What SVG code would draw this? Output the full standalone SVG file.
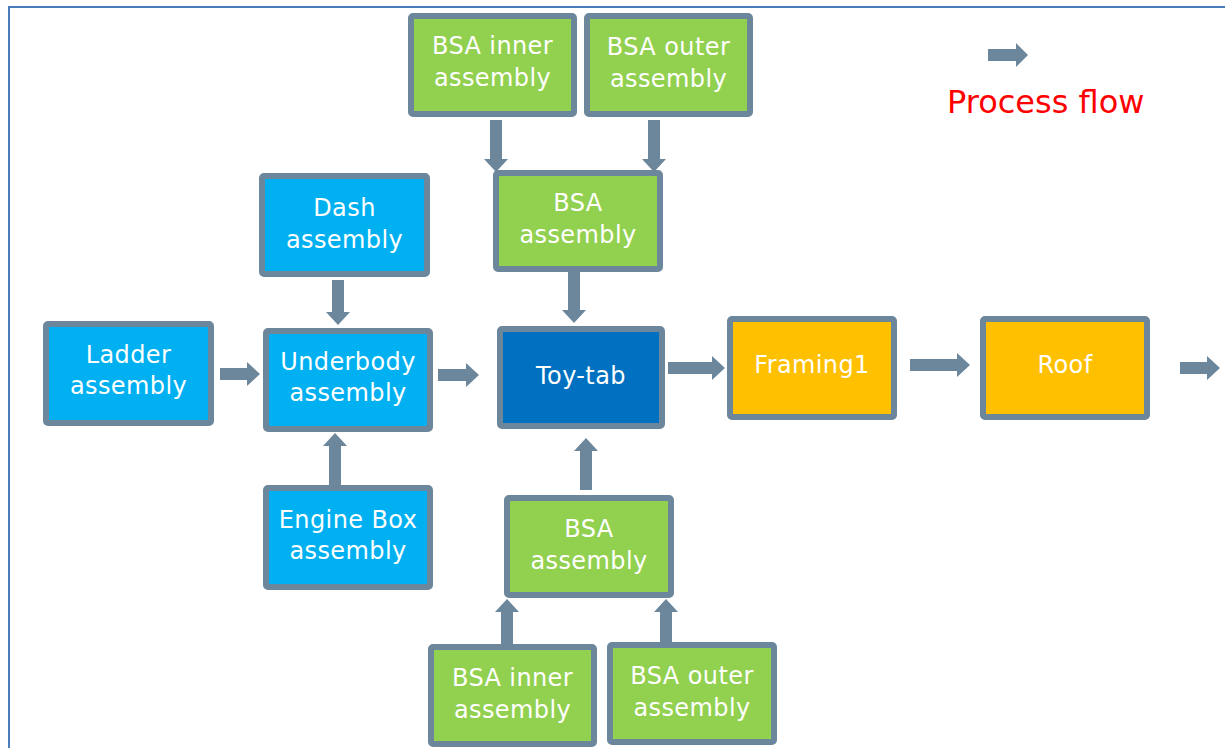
<svg xmlns="http://www.w3.org/2000/svg" width="1225" height="748" viewBox="0 0 1225 748">
  <style>
    .box { stroke: #6c879c; stroke-width: 6; }
    .sky { fill: #00b0f0; }
    .navy { fill: #0070c0; }
    .green { fill: #92d050; }
    .amber { fill: #ffc000; }
    .lbl { font-family: "DejaVu Sans", Verdana, sans-serif; font-size: 24px; letter-spacing: 0.4px; fill: #ffffff; text-anchor: middle; }
    .arr { fill: #6c879c; }
    .legend { font-family: "DejaVu Sans", Verdana, sans-serif; font-size: 32px; fill: #ff0000; }
  </style>
  <rect width="1225" height="748" fill="#ffffff"/>
  <!-- page frame -->
  <path d="M9 748 V7 H1225" fill="none" stroke="#4a7ebb" stroke-width="2"/>

  <!-- legend -->
  <g id="legend">
    <polygon class="arr" points="988,49 1016,49 1016,43 1028,55 1016,67 1016,61 988,61"/>
    <text class="legend" x="947" y="113">Process flow</text>
  </g>

  <!-- connectors -->
  <g id="connectors">
    <!-- Ladder -> Underbody -->
    <polygon class="arr" points="220,368 247,368 247,362 260,374 247,386 247,380 220,380"/>
    <!-- Underbody -> Toy-tab -->
    <polygon class="arr" points="438,369 466,369 466,363 479,375 466,387 466,381 438,381"/>
    <!-- Toy-tab -> Framing1 -->
    <polygon class="arr" points="668,362 712,362 712,356 725,368 712,380 712,374 668,374"/>
    <!-- Framing1 -> Roof -->
    <polygon class="arr" points="910,359 957,359 957,353 970,365 957,377 957,371 910,371"/>
    <!-- Roof -> next -->
    <polygon class="arr" points="1180,362 1207,362 1207,356 1220,368 1207,380 1207,374 1180,374"/>
    <!-- Dash -> Underbody -->
    <polygon class="arr" points="332,280 344,280 344,312 350,312 338,325 326,312 332,312"/>
    <!-- Engine Box -> Underbody -->
    <polygon class="arr" points="329,485 341,485 341,446 347,446 335,433 323,446 329,446"/>
    <!-- top BSA inner -> BSA -->
    <polygon class="arr" points="490,120 502,120 502,159 508,159 496,172 484,159 490,159"/>
    <!-- top BSA outer -> BSA -->
    <polygon class="arr" points="648,120 660,120 660,159 666,159 654,172 642,159 648,159"/>
    <!-- BSA -> Toy-tab (from above) -->
    <polygon class="arr" points="568,272 580,272 580,310 586,310 574,323 562,310 568,310"/>
    <!-- BSA -> Toy-tab (from below) -->
    <polygon class="arr" points="580,490 592,490 592,451 598,451 586,438 574,451 580,451"/>
    <!-- bottom BSA inner -> BSA -->
    <polygon class="arr" points="501,646 513,646 513,612 519,612 507,599 495,612 501,612"/>
    <!-- bottom BSA outer -> BSA -->
    <polygon class="arr" points="660,644 672,644 672,612 678,612 666,599 654,612 660,612"/>
  </g>

  <g id="ladder">
    <rect class="box sky" x="46" y="324" width="165" height="99" rx="2"/>
    <text class="lbl" x="128.5" y="363">Ladder</text>
    <text class="lbl" x="128.5" y="394">assembly</text>
  </g>
  <g id="dash">
    <rect class="box sky" x="262" y="176" width="165" height="98" rx="2"/>
    <text class="lbl" x="344.5" y="216">Dash</text>
    <text class="lbl" x="344.5" y="248">assembly</text>
  </g>
  <g id="underbody">
    <rect class="box sky" x="266" y="331" width="164" height="98" rx="2"/>
    <text class="lbl" x="348" y="370">Underbody</text>
    <text class="lbl" x="348" y="401">assembly</text>
  </g>
  <g id="engine-box">
    <rect class="box sky" x="266" y="488" width="164" height="99" rx="2"/>
    <text class="lbl" x="348" y="528">Engine Box</text>
    <text class="lbl" x="348" y="559">assembly</text>
  </g>
  <g id="bsa-inner-top">
    <rect class="box green" x="411" y="16" width="163" height="98" rx="2"/>
    <text class="lbl" x="492.5" y="54">BSA inner</text>
    <text class="lbl" x="492.5" y="86">assembly</text>
  </g>
  <g id="bsa-outer-top">
    <rect class="box green" x="587" y="16" width="163" height="98" rx="2"/>
    <text class="lbl" x="668.5" y="55">BSA outer</text>
    <text class="lbl" x="668.5" y="87">assembly</text>
  </g>
  <g id="bsa-top">
    <rect class="box green" x="496" y="173" width="164" height="96" rx="2"/>
    <text class="lbl" x="578" y="211">BSA</text>
    <text class="lbl" x="578" y="243">assembly</text>
  </g>
  <g id="toy-tab">
    <rect class="box navy" x="500" y="329" width="162" height="97" rx="2"/>
    <text class="lbl" x="581" y="384">Toy-tab</text>
  </g>
  <g id="framing1">
    <rect class="box amber" x="730" y="319" width="164" height="98" rx="2"/>
    <text class="lbl" x="812" y="373">Framing1</text>
  </g>
  <g id="roof">
    <rect class="box amber" x="983" y="319" width="164" height="98" rx="2"/>
    <text class="lbl" x="1065" y="373">Roof</text>
  </g>
  <g id="bsa-bottom">
    <rect class="box green" x="507" y="498" width="164" height="97" rx="2"/>
    <text class="lbl" x="589" y="537">BSA</text>
    <text class="lbl" x="589" y="569">assembly</text>
  </g>
  <g id="bsa-inner-bottom">
    <rect class="box green" x="431" y="647" width="163" height="97" rx="2"/>
    <text class="lbl" x="512.5" y="686">BSA inner</text>
    <text class="lbl" x="512.5" y="718">assembly</text>
  </g>
  <g id="bsa-outer-bottom">
    <rect class="box green" x="610" y="645" width="164" height="97" rx="2"/>
    <text class="lbl" x="692" y="684">BSA outer</text>
    <text class="lbl" x="692" y="716">assembly</text>
  </g>
</svg>
